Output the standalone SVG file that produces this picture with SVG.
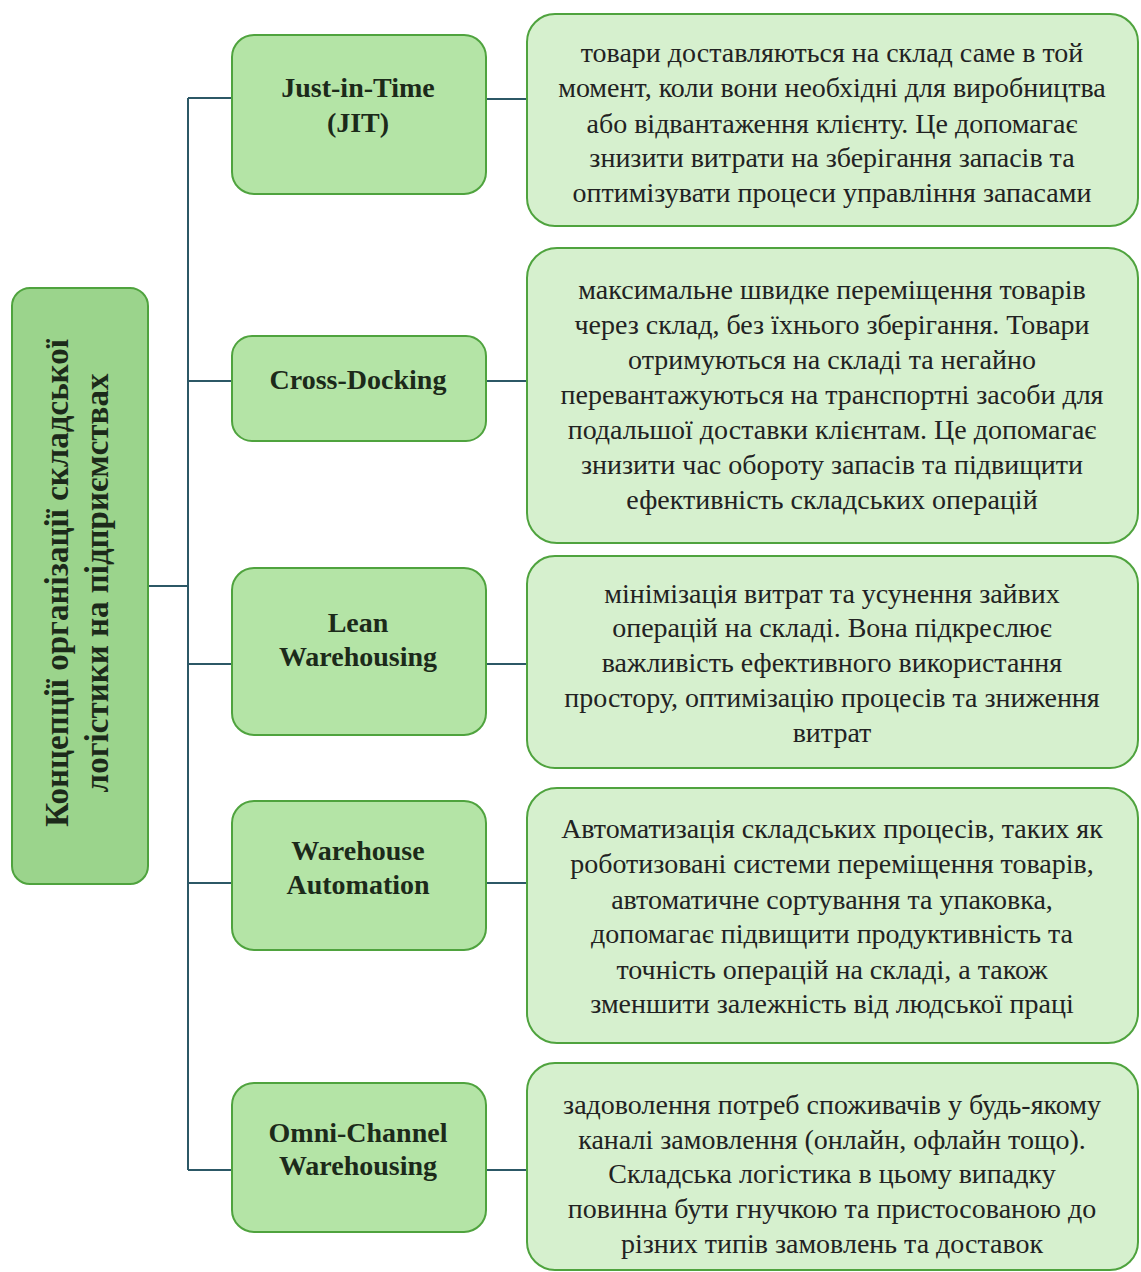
<svg xmlns="http://www.w3.org/2000/svg" width="1141" height="1272" viewBox="0 0 1141 1272">
<style>
.root{fill:#9bd48c;stroke:#4fa33e;stroke-width:2}
.mid{fill:#b4e4a6;stroke:#4fa33e;stroke-width:2}
.desc{fill:#d6f0ce;stroke:#4fa33e;stroke-width:2}
.lbl{font-family:"Liberation Serif","DejaVu Serif",serif;font-weight:bold;font-size:28px;fill:#1c2a1a;text-anchor:middle}
.big{font-size:33px}
.txt{font-family:"Liberation Serif","DejaVu Serif",serif;font-size:28px;fill:#222;text-anchor:middle}
.con{stroke:#2c5866;stroke-width:2;fill:none}
</style>
<g id="connectors">
<path class="con" d="M148 586H188M188 98V1170M188 98H232M188 381H232M188 664H232M188 883H232M188 1170H232"/>
<path class="con" d="M486 99H527M486 381H527M486 664H527M486 883H527M486 1170H527"/>
</g>
<g id="root">
<rect class="root" x="12" y="288" width="136" height="596" rx="18"/>
<text class="lbl big" transform="translate(68 583) rotate(-90)">Концепції організації складської</text>
<text class="lbl big" transform="translate(108 583) rotate(-90)">логістики на підприємствах</text>
</g>
<g id="jit">
<rect class="mid" x="232" y="35" width="254" height="159" rx="22"/>
<text class="lbl" x="358" y="97">Just-in-Time</text>
<text class="lbl" x="358" y="132">(JIT)</text>
</g>
<g id="cross">
<rect class="mid" x="232" y="336" width="254" height="105" rx="20"/>
<text class="lbl" x="358" y="389">Cross-Docking</text>
</g>
<g id="lean">
<rect class="mid" x="232" y="568" width="254" height="167" rx="22"/>
<text class="lbl" x="358" y="632">Lean</text>
<text class="lbl" x="358" y="666">Warehousing</text>
</g>
<g id="automation">
<rect class="mid" x="232" y="801" width="254" height="149" rx="22"/>
<text class="lbl" x="358" y="860">Warehouse</text>
<text class="lbl" x="358" y="894">Automation</text>
</g>
<g id="omni">
<rect class="mid" x="232" y="1083" width="254" height="149" rx="22"/>
<text class="lbl" x="358" y="1142">Omni-Channel</text>
<text class="lbl" x="358" y="1175">Warehousing</text>
</g>
<g id="d-jit">
<rect class="desc" x="527" y="14" width="611" height="212" rx="28"/>
<text class="txt" x="832" y="62">товари доставляються на склад саме в той</text>
<text class="txt" x="832" y="97">момент, коли вони необхідні для виробництва</text>
<text class="txt" x="832" y="133">або відвантаження клієнту. Це допомагає</text>
<text class="txt" x="832" y="167">знизити витрати на зберігання запасів та</text>
<text class="txt" x="832" y="202">оптимізувати процеси управління запасами</text>
</g>
<g id="d-cross">
<rect class="desc" x="527" y="248" width="611" height="295" rx="30"/>
<text class="txt" x="832" y="299">максимальне швидке переміщення товарів</text>
<text class="txt" x="832" y="334">через склад, без їхнього зберігання. Товари</text>
<text class="txt" x="832" y="369">отримуються на складі та негайно</text>
<text class="txt" x="832" y="404">перевантажуються на транспортні засоби для</text>
<text class="txt" x="832" y="439">подальшої доставки клієнтам. Це допомагає</text>
<text class="txt" x="832" y="474">знизити час обороту запасів та підвищити</text>
<text class="txt" x="832" y="509">ефективність складських операцій</text>
</g>
<g id="d-lean">
<rect class="desc" x="527" y="556" width="611" height="212" rx="28"/>
<text class="txt" x="832" y="603">мінімізація витрат та усунення зайвих</text>
<text class="txt" x="832" y="637">операцій на складі. Вона підкреслює</text>
<text class="txt" x="832" y="672">важливість ефективного використання</text>
<text class="txt" x="832" y="707">простору, оптимізацію процесів та зниження</text>
<text class="txt" x="832" y="742">витрат</text>
</g>
<g id="d-automation">
<rect class="desc" x="527" y="788" width="611" height="255" rx="30"/>
<text class="txt" x="832" y="838">Автоматизація складських процесів, таких як</text>
<text class="txt" x="832" y="873">роботизовані системи переміщення товарів,</text>
<text class="txt" x="832" y="909">автоматичне сортування та упаковка,</text>
<text class="txt" x="832" y="943">допомагає підвищити продуктивність та</text>
<text class="txt" x="832" y="979">точність операцій на складі, а також</text>
<text class="txt" x="832" y="1013">зменшити залежність від людської праці</text>
</g>
<g id="d-omni">
<rect class="desc" x="527" y="1063" width="611" height="207" rx="28"/>
<text class="txt" x="832" y="1114">задоволення потреб споживачів у будь-якому</text>
<text class="txt" x="832" y="1149">каналі замовлення (онлайн, офлайн тощо).</text>
<text class="txt" x="832" y="1183">Складська логістика в цьому випадку</text>
<text class="txt" x="832" y="1218">повинна бути гнучкою та пристосованою до</text>
<text class="txt" x="832" y="1253">різних типів замовлень та доставок</text>
</g>
</svg>
